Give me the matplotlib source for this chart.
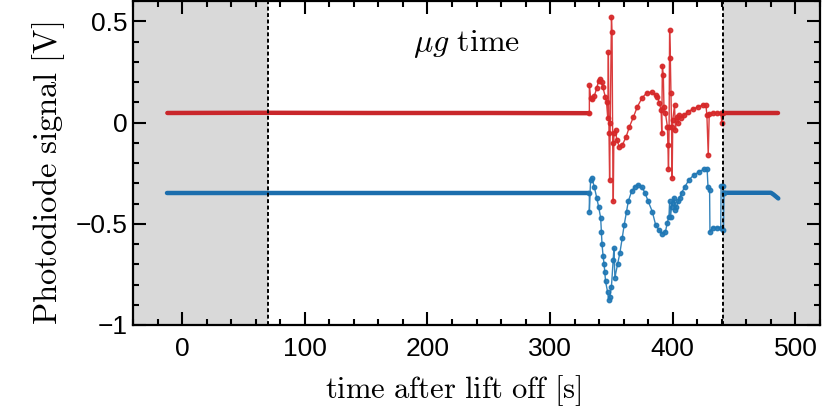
import matplotlib
matplotlib.use("Agg")
import matplotlib.pyplot as plt
from matplotlib.ticker import MultipleLocator

plt.rcParams['mathtext.fontset'] = 'cm'
plt.rcParams['font.family'] = ['Liberation Sans', 'DejaVu Sans']

# ---- data ----
# quiet baselines before / after the flight phase
red_pre_t = [-12, 60, 150, 250, 332]
red_pre_v = [0.047, 0.048, 0.047, 0.047, 0.046]
red_post_t = [441, 460, 486]
red_post_v = [0.046, 0.046, 0.046]
blue_pre_t = [-12, 60, 150, 250, 332]
blue_pre_v = [-0.347, -0.347, -0.347, -0.347, -0.347]
blue_post_t = [441.8, 460, 480, 482, 485, 486]
blue_post_v = [-0.347, -0.347, -0.347, -0.355, -0.37, -0.375]

# flight phase, red channel
red_t = [332, 332, 333, 334.5, 336, 338, 339.5, 340.6, 342, 343, 345, 346, 347, 347.5, 348, 348.5,
         349, 350, 350.5, 351, 351.5, 352, 353.4, 354.3, 356.5, 359, 362, 364.6,
         367.9, 371, 374.8, 378.7, 382.8, 386, 387.5, 389, 390.5, 391, 391.5,
         392.3, 392.8, 394, 395.6, 396, 396.5, 397, 397.4, 398, 398.5, 399,
         399.5, 400, 401.4, 402.2, 403.3, 404.6, 405.4, 406.7, 409.4, 412,
         416.2, 420.2, 424.3, 427, 427.8, 428.9, 429.7, 432.4, 436, 439.2, 440,
         441]
red_v = [0.046, 0.185, 0.12, 0.115, 0.13, 0.17, 0.205, 0.214, 0.2, 0.175, 0.126, 0.10, 0.02, 0.347,
         -0.05, -0.283, 0.0, 0.52, 0.446, -0.10, -0.39, -0.05, -0.037, -0.086,
         -0.12, -0.11, -0.07, -0.022, 0.027, 0.076, 0.12, 0.146, 0.15, 0.135,
         0.126, 0.096, 0.062, -0.052, 0.28, 0.233, 0.077, 0.046, -0.02, -0.11,
         -0.23, -0.02, 0.455, 0.32, 0.146, -0.02, -0.275, 0.012, 0.086, -0.037,
         0.027, -0.003, 0.037, 0.022, 0.037, 0.052, 0.066, 0.076, 0.086, 0.086,
         0.037, -0.16, 0.042, 0.047, 0.047, 0.047, -0.002, 0.046]

# flight phase, blue channel
blue_t = [332, 332, 333, 334, 336, 338, 339.5, 341.2, 341.8, 342.3, 343.2, 344,
          344.6, 345.2, 346.8, 347.8, 348.7, 350, 351.4, 352, 352.8, 355, 356.9,
          358.8, 360.4, 362.3, 363.7, 366.4, 369.1, 371.8, 374.6, 377.3, 380,
          383.3, 386, 388.7, 391.4, 394, 395.5, 396.9, 397.4, 398.2, 399, 400,
          401, 401.8, 402.9, 404.5, 405.6, 407.2, 409.9, 413.2, 417.2, 421.3,
          425.4, 428, 428.7, 430, 430.3, 432.4, 436.4, 439.1, 439.4, 441, 441.3,
          441.8]
blue_v = [-0.347, -0.44, -0.283, -0.274, -0.317, -0.372, -0.415, -0.47, -0.54,
          -0.60, -0.66, -0.70, -0.74, -0.785, -0.835, -0.875, -0.86, -0.81, -0.68,
          -0.62, -0.766, -0.70, -0.643, -0.57, -0.505, -0.44, -0.39, -0.34,
          -0.317, -0.308, -0.317, -0.347, -0.39, -0.44, -0.505, -0.53, -0.55,
          -0.54, -0.495, -0.465, -0.39, -0.465, -0.415, -0.397, -0.372, -0.43,
          -0.415, -0.39, -0.372, -0.347, -0.317, -0.283, -0.259, -0.244, -0.23,
          -0.232, -0.317, -0.332, -0.54, -0.52, -0.52, -0.52, -0.313, -0.313,
          -0.53, -0.347]

ug_start, ug_end = 70, 441
xlim = (-40, 520)
ylim = (-1, 0.6)

RED = '#d62728'
BLUE = '#1f77b4'

W, H = 822, 407
fig = plt.figure(figsize=(W / 100, H / 100), dpi=100)
ax = fig.add_axes([133 / W, 82 / H, 687 / W, 324 / H])

ax.axvspan(xlim[0], ug_start, color='#d9d9d9', lw=0, zorder=0)
ax.axvspan(ug_end, xlim[1], color='#d9d9d9', lw=0, zorder=0)
for xv in (ug_start, ug_end):
    ax.axvline(xv, color='black', lw=1.4, ls=(0, (2, 1.3)), zorder=5)

for t, v, c in ((red_pre_t, red_pre_v, '#c9272b'), (red_post_t, red_post_v, '#c9272b'),
                (blue_pre_t, blue_pre_v, '#1c6ead'), (blue_post_t, blue_post_v, '#1c6ead')):
    ax.plot(t, v, color=c, lw=3.2, solid_capstyle='round', zorder=3)

ax.plot(red_t, red_v, color=RED, lw=1.0, marker='o', ms=3.2, mec=RED, mfc=RED,
        alpha=0.9, zorder=4)
ax.plot(blue_t, blue_v, color=BLUE, lw=1.0, marker='o', ms=3.2, mec=BLUE, mfc=BLUE,
        alpha=0.9, zorder=4)

ax.set_xlim(*xlim)
ax.set_ylim(*ylim)
ax.xaxis.set_major_locator(MultipleLocator(100))
ax.xaxis.set_minor_locator(MultipleLocator(20))
ax.yaxis.set_minor_locator(MultipleLocator(0.1))
ax.set_yticks([-1, -0.5, 0, 0.5])
ax.set_yticklabels(['\u22121', '\u22120.5', '0', '0.5'])

ax.tick_params(which='both', direction='in', top=True, right=True, width=1.5,
               labelsize=19)
ax.tick_params(which='major', length=9.5)
ax.tick_params(which='minor', length=4.5)
ax.tick_params(axis='x', which='major', pad=9)
ax.tick_params(axis='y', which='major', pad=4)
for s in ax.spines.values():
    s.set_linewidth(1.6)

fig.text(453 / W, 1 - 391 / H, r'$\mathrm{time\ after\ lift\ off\ [s]}$',
         fontsize=22, ha='center', va='center')
fig.text(49 / W, 1 - 173 / H, r'$\mathrm{Photodiode\ signal\ [V]}$',
         fontsize=23.5, ha='center', va='center', rotation=90)
ax.text(232, 0.39, r'$\mu g\ \mathrm{time}$', fontsize=23, ha='center', va='center')

fig.savefig('out.png', dpi=100)
